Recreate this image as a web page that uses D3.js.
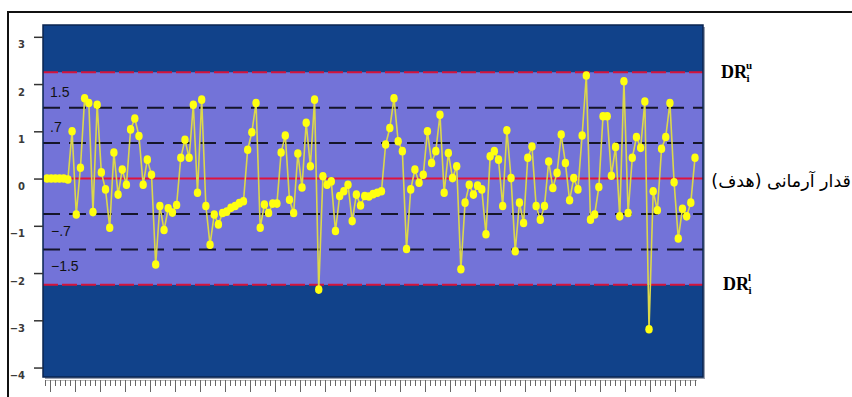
<!DOCTYPE html>
<html><head><meta charset="utf-8">
<script src="https://cdn.jsdelivr.net/npm/d3@7"></script>
<style>body{margin:0;background:#fff;overflow:hidden} svg{display:block}</style>
</head><body><svg id="c" width="852" height="397"></svg>
<script>
// ---- data ----
const values = [
  0, 0, 0, 0, 0, -0.02, 1.0, -0.76, 0.23, 1.7,
  1.6, -0.71, 1.56, 0.13, -0.23, -1.04, 0.55, -0.34, 0.19, -0.13,
  1.04, 1.27, 0.9, -0.13, 0.4, 0.08, -1.82, -0.58, -1.09, -0.63,
  -0.72, -0.56, 0.44, 0.82, 0.44, 1.56, -0.3, 1.67, -0.58, -1.4,
  -0.76, -0.97, -0.73, -0.70, -0.62, -0.58, -0.52, -0.48, 0.61, 0.98,
  1.6, -1.04, -0.55, -0.73, -0.53, -0.53, 0.55, 0.91, -0.45, -0.73,
  0.53, -0.19, 1.18, 0.26, 1.67, -2.35, 0.05, -0.13, -0.06, -1.11,
  -0.37, -0.27, -0.13, -0.9, -0.34, -0.57, -0.37, -0.38, -0.33, -0.3,
  -0.27, 0.72, 1.07, 1.7, 0.79, 0.58, -1.49, -0.23, 0.19, -0.09,
  0.08, 1.0, 0.33, 0.58, 1.35, -0.3, 0.54, 0.01, 0.26, -1.92,
  -0.51, -0.13, -0.34, -0.15, -0.23, -1.18, 0.47, 0.58, 0.4, -0.58,
  1.02, 0.01, -1.54, -0.51, -0.94, 0.44, 0.68, -0.58, -0.87, -0.58,
  0.36, -0.2, 0.12, 0.93, 0.33, -0.46, 0.01, -0.23, 0.91, 2.18,
  -0.87, -0.76, -0.18, 1.32, 1.32, 0.06, 0.67, -0.8, 2.06, -0.73,
  0.44, 0.88, 0.65, 1.63, -3.19, -0.27, -0.67, 0.63, 0.88, 1.6,
  -0.08, -1.27, -0.64, -0.8, -0.51, 0.44
];
const yTicks = [3, 2, 1, 0, -1, -2, -3, -4];
const refLevels = [1.5, 0.75, -0.75, -1.5];
const refLabels = ["1.5", ".7", "\u2212.7", "\u22121.5"];
const drUpper = 2.25;
const drLower = -2.25;
const target = 0;
const xTickCount = 131;               // minor ticks along the bottom
const targetLabel = "قدار آرمانی (هدف)";

// ---- layout ----
const svg = d3.select("#c");
const P = {left: 43, right: 703, top: 25, bottom: 377};
const y = d3.scaleLinear().domain([-4.2, 3.25]).range([P.bottom, P.top]);
const x = d3.scaleLinear().domain([0, values.length - 1]).range([47, 695]);
const xt = d3.scaleLinear().domain([0, xTickCount - 1]).range([45, 695]);

// outer frame
svg.append("path").attr("d", "M8,400 L8,12 L860,12").attr("fill", "none")
  .attr("stroke", "#111").attr("stroke-width", 2);

// plot shadow + background
svg.append("rect").attr("x", P.left + 2).attr("y", P.top + 2)
  .attr("width", P.right - P.left).attr("height", P.bottom - P.top)
  .attr("fill", "#9aa0b0");
svg.append("rect").attr("x", P.left).attr("y", P.top)
  .attr("width", P.right - P.left).attr("height", P.bottom - P.top)
  .attr("fill", "#11428a");
svg.append("rect").attr("x", P.left).attr("y", y(drUpper))
  .attr("width", P.right - P.left).attr("height", y(drLower) - y(drUpper))
  .attr("fill", "#7373d8");

// reference dashed black lines
svg.selectAll(".ref").data(refLevels).enter().append("line")
  .attr("x1", P.left).attr("x2", P.right)
  .attr("y1", d => y(d)).attr("y2", d => y(d))
  .attr("stroke", "#15152a").attr("stroke-width", 2)
  .attr("stroke-dasharray", "17,9");

// DR red dashed lines
svg.selectAll(".dr").data([drUpper, drLower]).enter().append("line")
  .attr("x1", P.left).attr("x2", P.right)
  .attr("y1", d => y(d)).attr("y2", d => y(d))
  .attr("stroke", "#d4143c").attr("stroke-width", 2)
  .attr("stroke-dasharray", "15,4");

// target red line
svg.append("line").attr("x1", P.left).attr("x2", P.right)
  .attr("y1", y(target)).attr("y2", y(target))
  .attr("stroke", "#e0143c").attr("stroke-width", 2);

// ref labels
svg.selectAll(".rl").data(refLevels).enter().append("text")
  .attr("x", (d, i) => i < 2 ? 50 : 51)
  .attr("y", d => d > 0 ? y(d) - 11 : y(d) + 22)
  .attr("font-family", "Liberation Sans, Arial, sans-serif")
  .attr("font-size", 14).attr("fill", "#111")
  .text((d, i) => refLabels[i]);

// series line + points
svg.append("path").datum(values)
  .attr("d", d3.line().x((d, i) => x(i)).y(d => y(d)))
  .attr("fill", "none").attr("stroke", "#dcd84a").attr("stroke-width", 1.6);
svg.selectAll(".pt").data(values).enter().append("ellipse")
  .attr("cx", (d, i) => x(i)).attr("cy", d => y(d))
  .attr("rx", 3.7).attr("ry", 4.3).attr("fill", "#ffff10");

// plot border
svg.append("rect").attr("x", P.left).attr("y", P.top)
  .attr("width", P.right - P.left).attr("height", P.bottom - P.top)
  .attr("fill", "none").attr("stroke", "#0a2450").attr("stroke-width", 1.5);

// y axis
const yAxis = svg.append("g").attr("transform", `translate(${P.left},0)`)
  .call(d3.axisLeft(y).tickValues(yTicks).tickSize(9).tickPadding(9).tickFormat(d3.format("d")));
yAxis.select(".domain").remove();
yAxis.selectAll(".tick line").attr("stroke", "#333").attr("stroke-width", 1.5);
yAxis.selectAll(".tick text").attr("font-family", "DejaVu Sans, sans-serif")
  .attr("font-size", 10).attr("font-weight", "bold").attr("fill", "#3a3a3a")
  .attr("dy", "1.1em");

// x axis ticks
const xAxis = svg.append("g").attr("transform", `translate(0,${P.bottom + 3})`)
  .call(d3.axisBottom(xt).tickValues(d3.range(xTickCount)).tickSize(6).tickFormat(""));
xAxis.select(".domain").attr("stroke", "#bbb").attr("d", `M45,0.5H697`);
xAxis.selectAll(".tick line").attr("stroke", "#666").attr("stroke-width", 1)
  .attr("y2", d => (d % 5 === 1) ? 12 : 6);

// right labels
const serif = "Liberation Serif, Times New Roman, serif";
function drLabel(xp, base, sup, sub) {
  const g = svg.append("g").attr("font-family", serif).attr("font-weight", "bold").attr("fill", "#000");
  g.append("text").attr("x", xp).attr("y", base).attr("font-size", 18).text("DR");
  g.append("text").attr("x", xp + 25).attr("y", base - 9).attr("font-size", 11).text(sup);
  g.append("text").attr("x", xp + 25.5).attr("y", base + 4).attr("font-size", 11).text(sub);
}
drLabel(721, 78, "u", "i");
drLabel(723, 290, "l", "i");

svg.append("text").attr("x", 851).attr("y", 187)
  .attr("direction", "rtl").attr("text-anchor", "start")
  .attr("font-family", "DejaVu Sans, sans-serif").attr("font-size", 17.5).attr("fill", "#000")
  .text(targetLabel);
</script>
</body></html>
